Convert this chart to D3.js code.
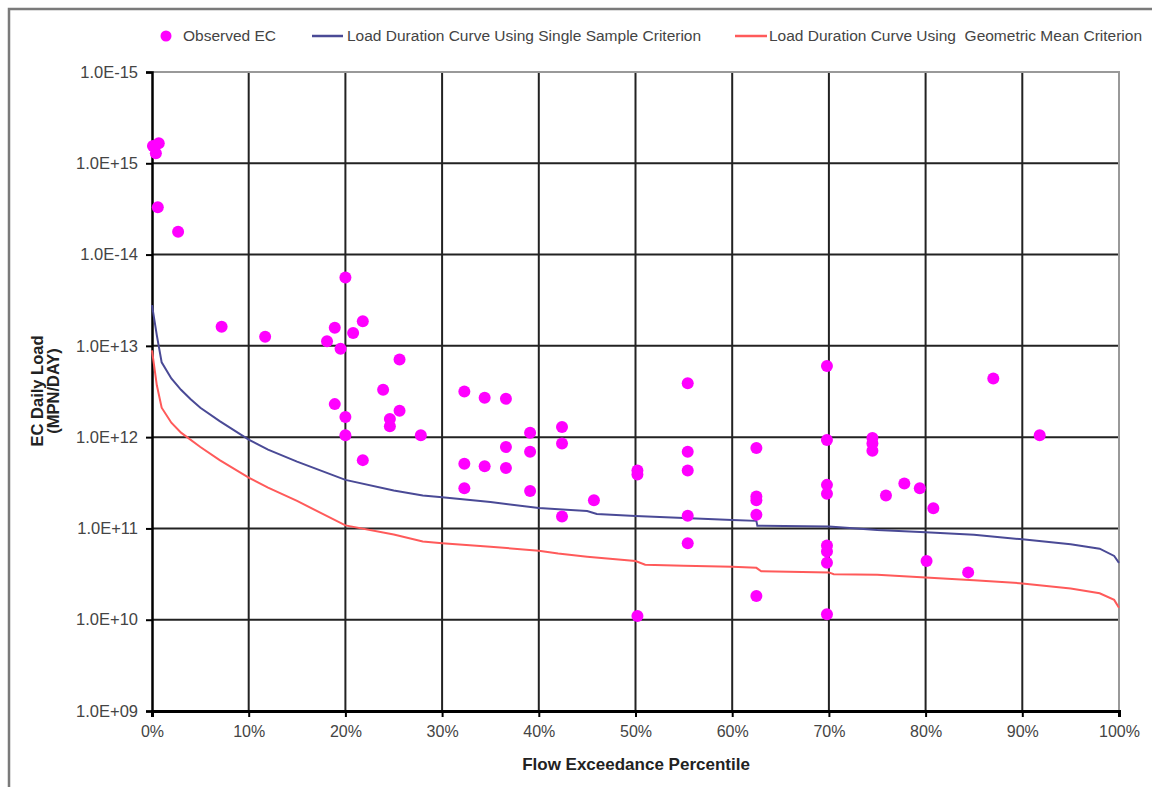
<!DOCTYPE html>
<html><head><meta charset="utf-8">
<script src="https://cdn.jsdelivr.net/npm/d3@7"></script>
<style>body{margin:0;background:#fff;} svg{display:block;font-family:Arial,"Liberation Sans",sans-serif;}</style>
</head><body>
<script>
// Observed EC loads: flow exceedance (fraction), load (MPN/day)
const obsPct = [0.001,0.007,0.004,0.006,0.027,0.072,0.117,0.200,0.189,0.181,0.195,0.208,0.218,0.256,0.239,0.189,0.200,0.200,0.246,0.246,0.256,0.218,0.278,0.323,0.344,0.366,0.323,0.323,0.344,0.366,0.366,0.391,0.391,0.391,0.424,0.424,0.424,0.457,0.502,0.502,0.502,0.554,0.554,0.554,0.554,0.554,0.625,0.625,0.625,0.625,0.625,0.698,0.698,0.698,0.698,0.698,0.698,0.698,0.698,0.745,0.745,0.745,0.759,0.778,0.794,0.808,0.801,0.844,0.870,0.918];
const obsLoad = [1.55e15,1.66e15,1.29e15,3.3e14,1.78e14,1.62e13,1.26e13,5.6e13,1.58e13,1.12e13,9.3e12,1.38e13,1.86e13,7.1e12,3.3e12,2.3e12,1.66e12,1.05e12,1.58e12,1.32e12,1.95e12,5.6e11,1.05e12,3.16e12,2.7e12,2.63e12,5.1e11,2.75e11,4.8e11,7.8e11,4.6e11,1.12e12,6.9e11,2.57e11,1.29e12,8.5e11,1.35e11,2.04e11,4.3e11,3.9e11,1.1e10,3.9e12,6.9e11,4.3e11,1.38e11,6.9e10,7.6e11,2.24e11,2.04e11,1.41e11,1.82e10,6.0e12,9.3e11,3.0e11,2.4e11,6.5e10,5.6e10,4.2e10,1.15e10,9.8e11,8.5e11,7.1e11,2.3e11,3.1e11,2.75e11,1.66e11,4.4e10,3.3e10,4.4e12,1.05e12];

// Load duration curve, single sample criterion
const ssPct = [0,0.005,0.01,0.02,0.03,0.04,0.05,0.07,0.10,0.12,0.15,0.20,0.25,0.28,0.30,0.35,0.40,0.45,0.46,0.50,0.55,0.60,0.625,0.626,0.70,0.75,0.80,0.85,0.90,0.95,0.98,0.995,1.0];
const ssLoad = [2.8e13,1.3e13,6.6e12,4.4e12,3.3e12,2.6e12,2.1e12,1.5e12,9.4e11,7.3e11,5.4e11,3.4e11,2.6e11,2.3e11,2.2e11,1.95e11,1.67e11,1.55e11,1.44e11,1.37e11,1.3e11,1.24e11,1.21e11,1.07e11,1.05e11,9.6e10,9.1e10,8.5e10,7.6e10,6.7e10,6.0e10,5.0e10,4.2e10];

// Load duration curve, geometric mean criterion
const gmPct = [0,0.005,0.01,0.02,0.03,0.05,0.07,0.10,0.12,0.15,0.20,0.25,0.28,0.30,0.35,0.40,0.42,0.45,0.50,0.51,0.55,0.60,0.625,0.63,0.70,0.705,0.75,0.80,0.85,0.90,0.95,0.98,0.995,1.0];
const gmLoad = [8.9e12,3.7e12,2.1e12,1.44e12,1.12e12,7.8e11,5.6e11,3.6e11,2.8e11,2.0e11,1.08e11,8.6e10,7.2e10,6.9e10,6.3e10,5.7e10,5.3e10,4.9e10,4.4e10,4.0e10,3.9e10,3.8e10,3.7e10,3.4e10,3.3e10,3.15e10,3.1e10,2.9e10,2.7e10,2.5e10,2.2e10,1.95e10,1.65e10,1.35e10];

const yTickVals = [1e9,1e10,1e11,1e12,1e13,1e14,1e15,1e16];
const yTickLabels = ["1.0E+09","1.0E+10","1.0E+11","1.0E+12","1.0E+13","1.0E-14","1.0E+15","1.0E-15"];
const xTickVals = [0,0.1,0.2,0.3,0.4,0.5,0.6,0.7,0.8,0.9,1.0];
const legendLabels = ["Observed EC","Load Duration Curve Using Single Sample Criterion","Load Duration Curve Using  Geometric Mean Criterion"];

const W=1152,H=787;
const svg=d3.select("body").append("svg").attr("width",W).attr("height",H);
const x=d3.scaleLinear().domain([0,1]).range([152,1119]);
const y=d3.scaleLog().domain([1e9,1e16]).range([711,72]);

// outer frame
svg.append("path").attr("d","M9,787 V9 H1152").attr("fill","none").attr("stroke","#7a7a7a").attr("stroke-width",2.5);

// grid
const g=svg.append("g");
g.selectAll(".hg").data(yTickVals.slice(1,-1)).join("line")
 .attr("x1",x(0)).attr("x2",x(1)).attr("y1",d=>y(d)).attr("y2",d=>y(d))
 .attr("stroke","#222").attr("stroke-width",2);
g.selectAll(".vg").data(xTickVals.slice(1,-1)).join("line")
 .attr("y1",y(1e9)).attr("y2",y(1e16)).attr("x1",d=>x(d)).attr("x2",d=>x(d))
 .attr("stroke","#222").attr("stroke-width",2);
// top & right border gray
g.append("path").attr("d",`M${x(0)},${y(1e16)} H${x(1)} V${y(1e9)}`).attr("fill","none").attr("stroke","#999").attr("stroke-width",2);

// axes
const yAxis=d3.axisLeft(y).tickValues(yTickVals).tickFormat((d,i)=>yTickLabels[i]).tickSize(6).tickPadding(8);
const ya=svg.append("g").attr("transform",`translate(${x(0)},0)`).call(yAxis);
ya.select(".domain").attr("stroke","#000").attr("stroke-width",2.5);
ya.selectAll(".tick line").attr("stroke","#000").attr("stroke-width",2);
ya.selectAll("text").attr("font-size",16.5).attr("fill","#444").attr("font-family","Arial,'Liberation Sans',sans-serif");

const xAxis=d3.axisBottom(x).tickValues(xTickVals).tickFormat(d3.format(".0%")).tickSize(6).tickPadding(9);
const xa=svg.append("g").attr("transform",`translate(0,${y(1e9)})`).call(xAxis);
xa.select(".domain").attr("stroke","#000").attr("stroke-width",3);
xa.selectAll(".tick line").attr("stroke","#000").attr("stroke-width",2);
xa.selectAll("text").attr("font-size",16).attr("fill","#444").attr("font-family","Arial,'Liberation Sans',sans-serif");

// curves
const line=d3.line().x(d=>x(d[0])).y(d=>y(d[1]));
svg.append("path").datum(d3.zip(gmPct,gmLoad)).attr("d",line).attr("fill","none").attr("stroke","#ff5a5a").attr("stroke-width",2);
svg.append("path").datum(d3.zip(ssPct,ssLoad)).attr("d",line).attr("fill","none").attr("stroke","#4a4a96").attr("stroke-width",2);

// points
svg.selectAll(".pt").data(d3.zip(obsPct,obsLoad)).join("circle")
 .attr("cx",d=>x(d[0])).attr("cy",d=>y(d[1])).attr("r",6).attr("fill","#ff00ff");

// axis titles
svg.append("text").attr("x",636).attr("y",770).attr("text-anchor","middle").attr("font-weight","bold").attr("font-size",17).attr("fill","#222").text("Flow Exceedance Percentile");
const yt=svg.append("text").attr("transform","translate(43,391) rotate(-90)").attr("text-anchor","middle").attr("font-weight","bold").attr("font-size",16.5).attr("fill","#222");
yt.append("tspan").attr("x",0).attr("dy",0).text("EC Daily Load");
yt.append("tspan").attr("x",0).attr("dy",16).text("(MPN/DAY)");

// legend
const lg=svg.append("g");
lg.append("circle").attr("cx",166).attr("cy",36).attr("r",5.5).attr("fill","#ff00ff");
lg.append("text").attr("x",183).attr("y",41).attr("font-size",15.5).attr("fill","#444").text(legendLabels[0]);
lg.append("line").attr("x1",312).attr("x2",343).attr("y1",36).attr("y2",36).attr("stroke","#4a4a96").attr("stroke-width",2.5);
lg.append("text").attr("x",347).attr("y",41).attr("font-size",15.5).attr("fill","#444").text(legendLabels[1]);
lg.append("line").attr("x1",735).attr("x2",767).attr("y1",36).attr("y2",36).attr("stroke","#ff5a5a").attr("stroke-width",2.5);
lg.append("text").attr("x",769).attr("y",41).attr("font-size",15.5).attr("fill","#444").attr("xml:space","preserve").style("white-space","pre").text(legendLabels[2]);
</script>
</body></html>
